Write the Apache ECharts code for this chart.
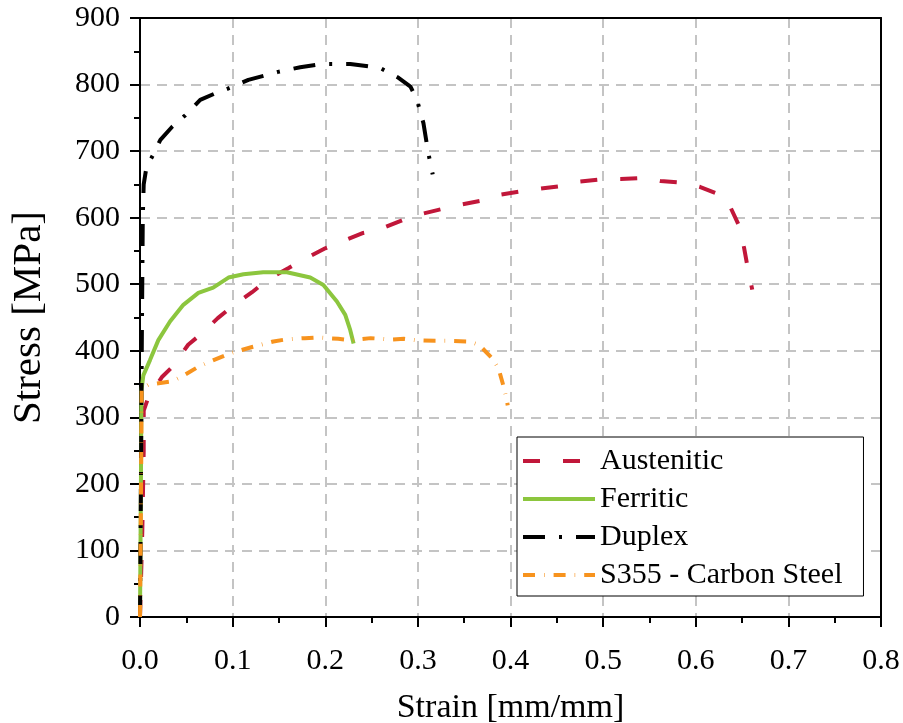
<!DOCTYPE html>
<html>
<head>
<meta charset="utf-8">
<script src="https://cdn.jsdelivr.net/npm/echarts@6/dist/echarts.min.js"></script>
<style>html,body{margin:0;padding:0;background:#fff;}#c{width:903px;height:723px;}</style>
</head>
<body>
<div id="c"></div>
<script>
var seriesNames = ['Austenitic', 'Ferritic', 'Duplex', 'S355 - Carbon Steel'];

var austeniticStrain = [0, 0.0025, 0.004, 0.004, 0.009, 0.024, 0.035, 0.052, 0.065, 0.084, 0.099, 0.121, 0.137, 0.160, 0.175, 0.200, 0.216, 0.241, 0.256, 0.283, 0.299, 0.326, 0.344, 0.370, 0.386, 0.413, 0.429, 0.457, 0.474, 0.501, 0.519, 0.546, 0.562, 0.589, 0.605, 0.627, 0.638, 0.649, 0.652, 0.657, 0.661];
var austeniticStress = [0, 130, 250, 310, 330, 361, 376, 409, 424, 449, 466, 488, 506, 524, 536, 554, 563, 577, 581, 596, 604, 613, 619, 626, 634, 640, 643, 648, 654, 658, 658, 660, 655, 652, 646, 634, 614, 581, 556, 518, 492];

var ferriticStrain = [0, 0.001, 0.0015, 0.0036, 0.0108, 0.0198, 0.0324, 0.0468, 0.063, 0.079, 0.0955, 0.1117, 0.133, 0.1586, 0.1838, 0.198, 0.2126, 0.2216, 0.227, 0.2306];
var ferriticStress = [0, 200, 340, 363, 386, 416, 444, 469, 487, 495, 510, 515, 518, 518, 510, 499, 474, 454, 431, 411];

var duplexStrain = [0, 0.001, 0.002, 0.003, 0.004, 0.007, 0.014, 0.022, 0.035, 0.049, 0.065, 0.08, 0.097, 0.117, 0.149, 0.173, 0.196, 0.227, 0.259, 0.278, 0.292, 0.299, 0.306, 0.311, 0.316];
var duplexStress = [0, 200, 420, 600, 650, 676, 694, 717, 737, 754, 777, 786, 795, 807, 819, 826, 831, 831, 825, 811, 797, 777, 742, 699, 665];

var s355Strain = [0, 0.001, 0.0018, 0.009, 0.034, 0.045, 0.063, 0.076, 0.097, 0.122, 0.144, 0.157, 0.178, 0.191, 0.214, 0.227, 0.249, 0.272, 0.285, 0.297, 0.319, 0.331, 0.355, 0.366, 0.380, 0.387, 0.393, 0.396, 0.397];
var s355Stress = [0, 170, 343, 349, 354, 361, 376, 384, 396, 406, 414, 417, 419, 420, 418, 416, 419, 417, 418, 416, 415, 415, 414, 409, 389, 374, 344, 326, 318];

function pairs(xs, ys) { return xs.map(function (x, i) { return [x, ys[i]]; }); }

var FONT = 'Liberation Serif';
var chart = echarts.init(document.getElementById('c'), null, { renderer: 'canvas' });

var gridLine = { show: true, lineStyle: { color: '#c4c4c4', width: 2, type: [10, 7] } };
var frameAxis = {
  axisLine: { show: true, onZero: false, lineStyle: { color: '#000', width: 2 } },
  axisTick: { show: false }, axisLabel: { show: false }, splitLine: { show: false }
};

chart.setOption({
  animation: false,
  backgroundColor: '#ffffff',
  grid: { left: 140, right: 22, top: 18, bottom: 106, containLabel: false, outerBoundsMode: 'none' },
  legend: {
    orient: 'vertical',
    left: 517, top: 437,
    padding: [9, 21, 6, 4],
    itemWidth: 72, itemHeight: 14, itemGap: 8,
    backgroundColor: '#ffffff',
    borderColor: '#000', borderWidth: 1,
    itemStyle: { color: 'rgba(0,0,0,0)', borderWidth: 0, opacity: 0 },
    lineStyle: { width: 4 },
    textStyle: { fontFamily: FONT, fontSize: 30, color: '#000' },
    data: seriesNames
  },
  xAxis: [{
    type: 'value', min: 0, max: 0.8, interval: 0.1,
    name: 'Strain [mm/mm]', nameLocation: 'middle', nameGap: 74,
    nameTextStyle: { fontFamily: FONT, fontSize: 34, color: '#000' },
    axisLine: { show: true, onZero: false, lineStyle: { color: '#000', width: 2 } },
    axisTick: { show: true, inside: false, length: 10, lineStyle: { color: '#000', width: 2 } },
    minorTick: { show: true, splitNumber: 2, length: 6, lineStyle: { color: '#000', width: 2 } },
    axisLabel: { fontFamily: FONT, fontSize: 30, color: '#000', margin: 29, formatter: function (v) { return v.toFixed(1); } },
    splitLine: gridLine
  }, Object.assign({ type: 'value', position: 'top', min: 0, max: 0.8, interval: 0.1 }, frameAxis)],
  yAxis: [{
    type: 'value', min: 0, max: 900, interval: 100,
    name: 'Stress [MPa]', nameLocation: 'middle', nameGap: 90,
    nameTextStyle: { fontFamily: FONT, fontSize: 41, color: '#000' },
    axisLine: { show: true, onZero: false, lineStyle: { color: '#000', width: 2 } },
    axisTick: { show: true, inside: false, length: 10, lineStyle: { color: '#000', width: 2 } },
    minorTick: { show: true, splitNumber: 2, length: 6, lineStyle: { color: '#000', width: 2 } },
    axisLabel: { fontFamily: FONT, fontSize: 30, color: '#000', margin: 20 },
    splitLine: gridLine
  }, Object.assign({ type: 'value', position: 'right', min: 0, max: 900, interval: 100 }, frameAxis)],
  series: [
    { name: seriesNames[0], type: 'line', symbol: 'none', smooth: false, data: pairs(austeniticStrain, austeniticStress),
      lineStyle: { color: '#C1173A', width: 4, type: [17, 23] }, itemStyle: { color: '#C1173A' } },
    { name: seriesNames[1], type: 'line', symbol: 'none', smooth: false, data: pairs(ferriticStrain, ferriticStress),
      lineStyle: { color: '#8CC63E', width: 4, type: 'solid' }, itemStyle: { color: '#8CC63E' } },
    { name: seriesNames[2], type: 'line', symbol: 'none', smooth: false, data: pairs(duplexStrain, duplexStress),
      lineStyle: { color: '#000000', width: 4, type: [22, 14, 3, 14] }, itemStyle: { color: '#000000' } },
    { name: seriesNames[3], type: 'line', symbol: 'none', smooth: false, data: pairs(s355Strain, s355Stress),
      lineStyle: { color: '#F7931E', width: 4, type: [12, 9, 0.6, 9] }, itemStyle: { color: '#F7931E' } }
  ]
});
</script>
</body>
</html>
